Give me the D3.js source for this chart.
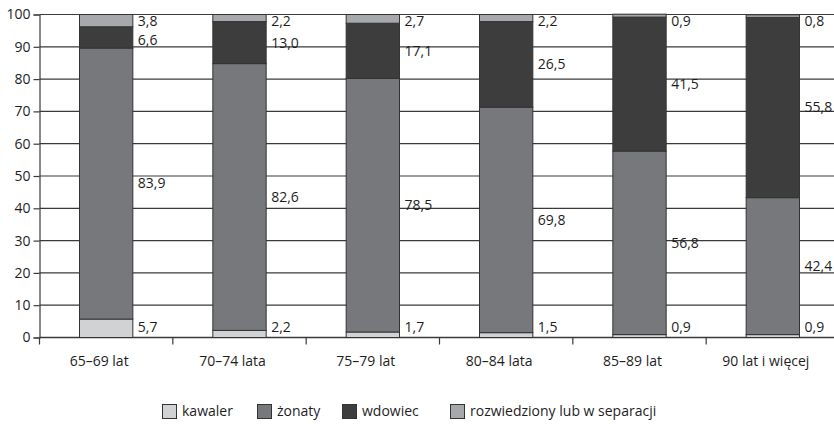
<!DOCTYPE html>
<html>
<head>
<meta charset="utf-8">
<script src="https://cdn.jsdelivr.net/npm/d3@7"></script>
<style>
  html, body { margin: 0; padding: 0; background: #fff; }
  svg { display: block; font-family: "Open Sans", "DejaVu Sans", sans-serif; }
</style>
</head>
<body>
<svg id="chart" width="834" height="426"></svg>
<script>
// Age groups and marital-status shares (%) for men
const categories = ["65–69 lat", "70–74 lata", "75–79 lat", "80–84 lata", "85–89 lat", "90 lat i więcej"];
const seriesNames = ["kawaler", "żonaty", "wdowiec", "rozwiedziony lub w separacji"];
const kawaler      = [5.7, 2.2, 1.7, 1.5, 0.9, 0.9];
const zonaty       = [83.9, 82.6, 78.5, 69.8, 56.8, 42.4];
const wdowiec      = [6.6, 13.0, 17.1, 26.5, 41.5, 55.8];
const rozwiedziony = [3.8, 2.2, 2.7, 2.2, 0.9, 0.8];
const yTicks = [0, 10, 20, 30, 40, 50, 60, 70, 80, 90, 100];

const colors = ["#d1d2d4", "#77787c", "#3d3d3e", "#a7a8ab"];

const rows = categories.map((c, i) => ({
  cat: c,
  kawaler: kawaler[i],
  "żonaty": zonaty[i],
  wdowiec: wdowiec[i],
  "rozwiedziony lub w separacji": rozwiedziony[i]
}));
const stacked = d3.stack().keys(seriesNames)(rows);

const svg = d3.select("#chart");
const plotLeft = 39.5, plotRight = 839.5, plotTop = 14.5, plotBottom = 337.5;

const x = d3.scaleBand().domain(categories).range([plotLeft, plotRight])
  .paddingInner(0.6).paddingOuter(0.3);
const y = d3.scaleLinear().domain([0, 100]).range([plotBottom, plotTop]);

const lineColor = "#3a3a3a";
const fontSize = 14;
const textColor = "#1e1e1e";

// value axis with short outward ticks
const yAxis = svg.append("g")
  .attr("transform", `translate(${plotLeft},0)`)
  .call(d3.axisLeft(y).tickValues(yTicks).tickSize(6).tickPadding(3).tickFormat(d3.format("d")));
yAxis.select(".domain").attr("stroke", lineColor).attr("stroke-width", 1.2);
yAxis.selectAll(".tick line").attr("stroke", lineColor).attr("stroke-width", 1.2);
yAxis.selectAll(".tick text").attr("font-size", fontSize).attr("fill", textColor)
  .attr("font-family", "'Open Sans', sans-serif");

// horizontal gridlines
svg.append("g").selectAll("line")
  .data(yTicks.filter(d => d > 0))
  .join("line")
  .attr("x1", plotLeft).attr("x2", plotRight)
  .attr("y1", d => y(d)).attr("y2", d => y(d))
  .attr("stroke", lineColor).attr("stroke-width", 1.2);

// category axis with ticks at band boundaries
const xAxisG = svg.append("g").attr("transform", `translate(0,${plotBottom})`);
xAxisG.append("line").attr("x1", plotLeft).attr("x2", plotRight)
  .attr("stroke", lineColor).attr("stroke-width", 1.4);
const bounds = categories.map(c => x(c) - x.step() * x.paddingOuter())
  .concat([plotRight]);
xAxisG.selectAll("line.tk").data(bounds).join("line")
  .attr("class", "tk")
  .attr("x1", d => d).attr("x2", d => d)
  .attr("y1", 0).attr("y2", 7)
  .attr("stroke", lineColor).attr("stroke-width", 1.2);
xAxisG.selectAll("text").data(categories).join("text")
  .attr("x", d => x(d) + x.bandwidth() / 2 - 7)
  .attr("y", 28)
  .attr("text-anchor", "middle")
  .attr("font-size", fontSize).attr("fill", textColor)
  .text(d => d);

// stacked bars
svg.append("g").selectAll("g").data(stacked).join("g")
  .attr("fill", (d, i) => colors[i])
  .selectAll("rect").data(d => d).join("rect")
  .attr("x", d => x(d.data.cat))
  .attr("width", x.bandwidth())
  .attr("y", d => y(d[1]))
  .attr("height", d => y(d[0]) - y(d[1]))
  .attr("stroke", "#333")
  .attr("stroke-width", 1);

// value labels beside each segment, spread apart where segments are thin
const minGap = 19;
categories.forEach((c, ci) => {
  const labels = stacked.map(s => ({
    v: s[ci][1] - s[ci][0],
    cy: (y(s[ci][0]) + y(s[ci][1])) / 2
  }));
  labels[0].cy = Math.min(labels[0].cy, plotBottom - 10);
  labels[labels.length - 1].cy = Math.max(labels[labels.length - 1].cy, plotTop + 7);
  for (let k = labels.length - 2; k >= 0; k--) {
    if (labels[k].cy - labels[k + 1].cy < minGap) labels[k].cy = labels[k + 1].cy + minGap;
  }
  svg.append("g").selectAll("text").data(labels).join("text")
    .attr("x", x(c) + x.bandwidth() + 5)
    .attr("y", d => d.cy)
    .attr("dy", "0.35em")
    .attr("font-size", fontSize).attr("fill", textColor)
    .text(d => d3.format(".1f")(d.v).replace(".", ","));
});

// legend
const legendX = [162, 257, 342, 450];
const leg = svg.append("g");
seriesNames.forEach((n, i) => {
  leg.append("rect").attr("x", legendX[i] + 0.5).attr("y", 404.5).attr("width", 14).attr("height", 14)
    .attr("fill", colors[i]).attr("stroke", "#333").attr("stroke-width", 1);
  leg.append("text").attr("x", legendX[i] + 20).attr("y", 411.5).attr("dy", "0.35em")
    .attr("font-size", fontSize).attr("fill", textColor).text(n);
});
</script>
</body>
</html>
